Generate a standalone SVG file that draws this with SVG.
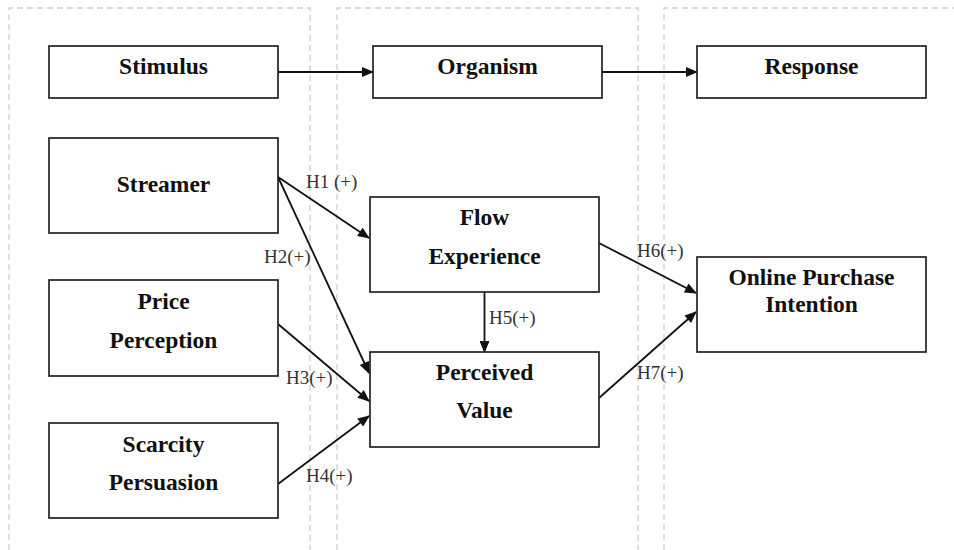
<svg xmlns="http://www.w3.org/2000/svg" width="954" height="550" viewBox="0 0 954 550">
<style>
.zone{fill:none;stroke:#cfcfcf;stroke-width:1.3;stroke-dasharray:6 4}
.box{fill:#fff;stroke:#222;stroke-width:1.7}
.t{font-family:"Liberation Serif","Times New Roman",serif;font-weight:bold;font-size:23.5px;fill:#111;text-anchor:middle}
.lbl{font-family:"Liberation Serif","Times New Roman",serif;font-size:19px;fill:#333}
.c{fill:none;stroke:#111;stroke-width:1.8;marker-end:url(#ah)}
</style>
<defs>
<marker id="ah" viewBox="0 0 12 10" refX="11" refY="5" markerWidth="13" markerHeight="10" markerUnits="userSpaceOnUse" orient="auto">
<path d="M0,0 L12,5 L0,10 z" fill="#111"/>
</marker>
</defs>
<rect width="954" height="550" fill="#fff"/>
<g id="zones">
<path class="zone" d="M9,550 V8 H310 V550"/>
<path class="zone" d="M337,550 V8 H638 V550"/>
<path class="zone" d="M664,550 V8 H954"/>
</g>
<g id="connectors">
<line class="c" x1="278" y1="72" x2="373" y2="72"/>
<line class="c" x1="602" y1="72" x2="697" y2="72"/>
<line class="c" x1="278" y1="177" x2="369" y2="238"/>
<line class="c" x1="278" y1="177" x2="369" y2="373"/>
<line class="c" x1="278" y1="324" x2="369" y2="401"/>
<line class="c" x1="278" y1="484" x2="369" y2="416"/>
<line class="c" x1="484.5" y1="292" x2="484.5" y2="352"/>
<line class="c" x1="599" y1="243" x2="696" y2="293"/>
<line class="c" x1="599" y1="398" x2="696" y2="312"/>
<text class="lbl" x="306" y="188">H1 (+)</text>
<text class="lbl" x="264" y="263">H2(+)</text>
<text class="lbl" x="286" y="384">H3(+)</text>
<text class="lbl" x="306" y="482">H4(+)</text>
<text class="lbl" x="489" y="324">H5(+)</text>
<text class="lbl" x="637" y="257">H6(+)</text>
<text class="lbl" x="637" y="379">H7(+)</text>
</g>
<g id="stimulus"><rect class="box" x="49" y="46" width="229" height="52"/><text class="t" x="163.5" y="74">Stimulus</text></g>
<g id="organism"><rect class="box" x="373" y="46" width="229" height="52"/><text class="t" x="487.5" y="74">Organism</text></g>
<g id="response"><rect class="box" x="697" y="46" width="229" height="52"/><text class="t" x="811.5" y="74">Response</text></g>
<g id="streamer"><rect class="box" x="49" y="138" width="229" height="95"/><text class="t" x="163.5" y="192">Streamer</text></g>
<g id="price"><rect class="box" x="49" y="280" width="229" height="96"/><text class="t" x="163.5" y="309">Price</text><text class="t" x="163.5" y="348">Perception</text></g>
<g id="scarcity"><rect class="box" x="49" y="423" width="229" height="95"/><text class="t" x="163.5" y="452">Scarcity</text><text class="t" x="163.5" y="490">Persuasion</text></g>
<g id="flow"><rect class="box" x="370" y="197" width="229" height="95"/><text class="t" x="484.5" y="225">Flow</text><text class="t" x="484.5" y="264">Experience</text></g>
<g id="value"><rect class="box" x="370" y="352" width="229" height="95"/><text class="t" x="484.5" y="380">Perceived</text><text class="t" x="484.5" y="418">Value</text></g>
<g id="intention"><rect class="box" x="697" y="257" width="229" height="95"/><text class="t" x="811.5" y="285">Online Purchase</text><text class="t" x="811.5" y="312">Intention</text></g>
</svg>
